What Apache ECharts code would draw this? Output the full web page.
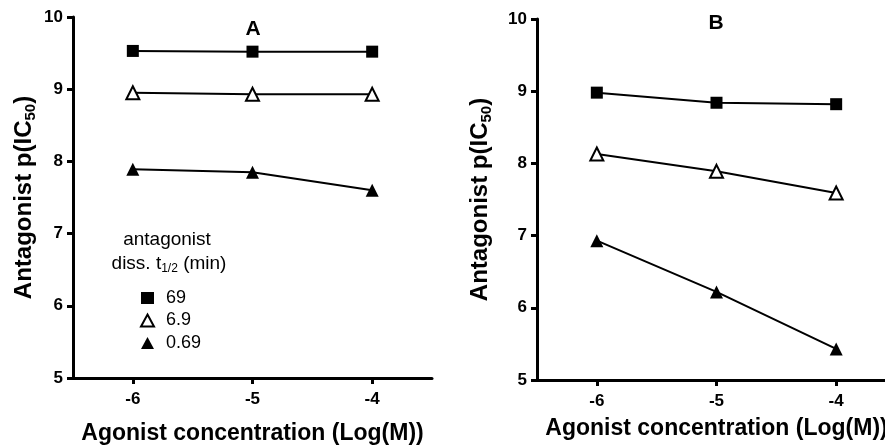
<!DOCTYPE html>
<html>
<head>
<meta charset="utf-8">
<script src="https://cdn.jsdelivr.net/npm/echarts@6/dist/echarts.min.js"></script>
<style>
  html, body { margin: 0; padding: 0; background: #fff; overflow: hidden; }
  #chart { width: 885px; height: 446px; }
</style>
</head>
<body>
<div id="chart"></div>
<script>
// x positions (log agonist concentration)
const logConc = [-6, -5, -4];
const xTicks = [-6, -5, -4];
const yTicks = [5, 6, 7, 8, 9, 10];

// legend entries: antagonist dissociation t1/2 (min)
const halfLives = ['69', '6.9', '0.69'];

// panel A
const aSlow = [9.53, 9.52, 9.52];
const aMid = [8.95, 8.93, 8.93];
const aFast = [7.89, 7.85, 7.60];

// panel B
const bSlow = [8.98, 8.84, 8.82];
const bMid = [8.13, 7.89, 7.59];
const bFast = [6.93, 6.22, 5.43];

const FONT = '"Liberation Sans", Arial, sans-serif';
const pairs = (ys) => logConc.map((x, i) => [x, ys[i]]);

const symbols = [
  { symbol: 'rect', size: 12, style: { color: '#000' } },
  { symbol: 'triangle', size: 13, style: { color: '#fff', borderColor: '#000', borderWidth: 2 } },
  { symbol: 'triangle', size: 13, style: { color: '#000' } }
];

const xAxisOf = (gridIndex, gap) => ({
  type: 'value',
  gridIndex,
  min: -6.5,
  max: -3.5,
  name: 'Agonist concentration (Log(M))',
  nameLocation: 'middle',
  nameGap: gap,
  nameTextStyle: { fontFamily: FONT, fontWeight: 'bold', fontSize: 23, color: '#000' },
  axisLine: { lineStyle: { color: '#000', width: 3 } },
  axisTick: { show: true, customValues: xTicks, length: 6, lineStyle: { color: '#000', width: 3 } },
  axisLabel: {
    customValues: xTicks,
    margin: 13,
    fontFamily: FONT, fontWeight: 'bold', fontSize: 17, color: '#000'
  },
  splitLine: { show: false }
});

const yAxisOf = (gridIndex, gap) => ({
  type: 'value',
  gridIndex,
  min: 5,
  max: 10,
  interval: 1,
  name: '{b|Antagonist p(IC}{s|50}{b|)}',
  nameLocation: 'middle',
  nameGap: gap,
  nameTextStyle: {
    rich: {
      b: { fontFamily: FONT, fontWeight: 'bold', fontSize: 24, color: '#000', lineHeight: 28 },
      s: { fontFamily: FONT, fontWeight: 'bold', fontSize: 15, color: '#000', lineHeight: 16, verticalAlign: 'bottom' }
    }
  },
  axisLine: { lineStyle: { color: '#000', width: 3 } },
  axisTick: { show: true, length: 6, lineStyle: { color: '#000', width: 3 } },
  axisLabel: {
    margin: 10,
    fontFamily: FONT, fontWeight: 'bold', fontSize: 17, color: '#000',
    formatter: (v) => (yTicks.includes(v) ? String(v) : '')
  },
  splitLine: { show: false }
});

const seriesOf = (names, sets, idx) => sets.map((ys, i) => ({
  type: 'line',
  name: names[i],
  xAxisIndex: idx,
  yAxisIndex: idx,
  data: pairs(ys),
  symbol: symbols[i].symbol,
  symbolSize: symbols[i].size,
  lineStyle: { color: '#000', width: 2 },
  itemStyle: symbols[i].style,
  z: 3,
  emphasis: { disabled: true },
  animation: false
}));

const chart = echarts.init(document.getElementById('chart'));
chart.setOption({
  backgroundColor: '#fff',
  animation: false,
  grid: [
    { left: 73, top: 17, width: 359, height: 361, outerBoundsMode: 'none', containLabel: false },
    { left: 537, top: 19, width: 359, height: 361, outerBoundsMode: 'none', containLabel: false }
  ],
  xAxis: [xAxisOf(0, 44), xAxisOf(1, 37)],
  yAxis: [yAxisOf(0, 35), yAxisOf(1, 43)],
  legend: {
    left: 140,
    top: 289,
    padding: 0,
    orient: 'vertical',
    itemWidth: 13,
    itemHeight: 12,
    itemGap: 4.5,
    selectedMode: false,
    data: [
      { name: halfLives[0], icon: 'rect' },
      { name: halfLives[1], icon: 'triangle' },
      { name: halfLives[2], icon: 'triangle' }
    ],
    textStyle: { fontFamily: FONT, fontSize: 18, color: '#000', padding: [0, 0, 0, 7] }
  },
  graphic: [
    {
      type: 'text', x: 167, y: 240,
      style: { text: 'antagonist', align: 'center', verticalAlign: 'middle',
        font: '19px ' + FONT, fill: '#000' }
    },
    {
      type: 'text', x: 169, y: 264,
      style: {
        text: '{n|diss. t}{s|1/2}{n| (min)}', align: 'center', verticalAlign: 'middle',
        rich: {
          n: { fontFamily: FONT, fontSize: 19, color: '#000', lineHeight: 22 },
          s: { fontFamily: FONT, fontSize: 12, color: '#000', lineHeight: 13, verticalAlign: 'bottom' }
        }
      }
    },
    {
      type: 'text', x: 253, y: 29,
      style: { text: 'A', align: 'center', verticalAlign: 'middle', font: 'bold 21px ' + FONT, fill: '#000' }
    },
    {
      type: 'text', x: 716, y: 23,
      style: { text: 'B', align: 'center', verticalAlign: 'middle', font: 'bold 21px ' + FONT, fill: '#000' }
    }
  ],
  series: [
    ...seriesOf(halfLives, [aSlow, aMid, aFast], 0),
    ...seriesOf(halfLives.map((n) => 'B ' + n), [bSlow, bMid, bFast], 1)
  ]
});
</script>
</body>
</html>
